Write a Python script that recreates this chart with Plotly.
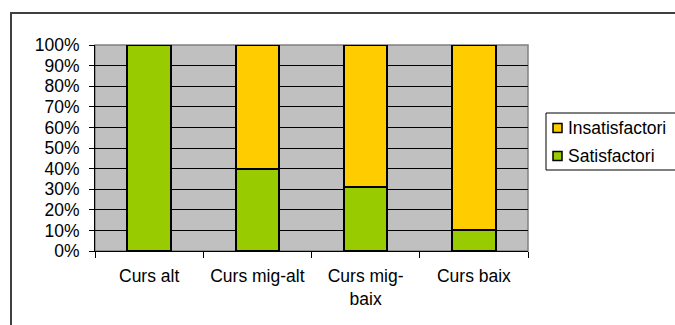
import plotly.graph_objects as go

categories = ["Curs alt", "Curs mig-alt", "Curs mig-<br>baix", "Curs baix"]
satisfactori = [100, 40, 31, 10]
insatisfactori = [0, 60, 69, 90]
tick_vals = [0, 10, 20, 30, 40, 50, 60, 70, 80, 90, 100]
tick_text = [f"{v}%" for v in tick_vals]
series_names = ["Insatisfactori", "Satisfactori"]

GREEN = "#99CC00"
YELLOW = "#FFCC00"
FAMILY = "Liberation Sans, Arial, sans-serif"
FONT = dict(family=FAMILY, size=17.5, color="black")

fig = go.Figure()
fig.add_trace(go.Bar(
    x=categories, y=satisfactori, name="Satisfactori",
    marker=dict(color=GREEN, line=dict(color="black", width=2)),
    width=0.4,
))
fig.add_trace(go.Bar(
    x=categories, y=insatisfactori, name="Insatisfactori",
    marker=dict(color=YELLOW, line=dict(color="black", width=2)),
    width=0.4,
))

W, H = 675, 325
L, R, T, B = 95, 147, 45, 74
pw, ph = W - L - R, H - T - B


def px_x(px):
    return (px - L) / pw


def px_y(py):
    return (H - B - py) / ph


shapes = [
    # plot-area frame
    dict(type="rect", xref="paper", yref="paper", x0=0, x1=1, y0=0, y1=1,
         line=dict(color="#808080", width=1.5), layer="below"),
    # outer chart frame
    dict(type="rect", xref="paper", yref="paper",
         x0=px_x(11), x1=px_x(700), y0=px_y(400), y1=px_y(13),
         line=dict(color="#404040", width=2)),
    # legend box
    dict(type="rect", xref="paper", yref="paper",
         x0=px_x(546), x1=px_x(690), y0=px_y(170), y1=px_y(113),
         line=dict(color="black", width=1), fillcolor="white"),
]
annotations = []
legend_colors = {"Insatisfactori": YELLOW, "Satisfactori": GREEN}
for i, name in enumerate(series_names):
    cy = 128 + i * 28
    shapes.append(dict(
        type="rect", xref="paper", yref="paper",
        x0=px_x(553), x1=px_x(562), y0=px_y(cy + 4.5), y1=px_y(cy - 4.5),
        line=dict(color="black", width=1.5), fillcolor=legend_colors[name],
    ))
    annotations.append(dict(
        x=px_x(566), y=px_y(cy), xref="paper", yref="paper",
        xanchor="left", yanchor="middle", showarrow=False,
        text=name, font=FONT,
    ))

fig.update_layout(
    width=W, height=H,
    margin=dict(l=L, r=R, t=T, b=B, autoexpand=False),
    barmode="stack",
    paper_bgcolor="white",
    plot_bgcolor="#C0C0C0",
    font=FONT,
    showlegend=False,
    xaxis=dict(
        type="category",
        tickson="boundaries",
        ticks="outside", ticklen=6, tickcolor="black",
        ticklabelstandoff=9,
        showline=True, linecolor="black", linewidth=1,
        showgrid=False,
        tickfont=FONT,
        fixedrange=True,
    ),
    yaxis=dict(
        range=[0, 100],
        tickvals=tick_vals, ticktext=tick_text,
        ticks="outside", ticklen=5, tickcolor="black",
        ticklabelstandoff=6,
        showline=True, linecolor="black", linewidth=1,
        showgrid=True, gridcolor="black", gridwidth=1,
        zeroline=False,
        tickfont=FONT,
        fixedrange=True,
    ),
    shapes=shapes,
    annotations=annotations,
)

fig.write_html("out.html")
